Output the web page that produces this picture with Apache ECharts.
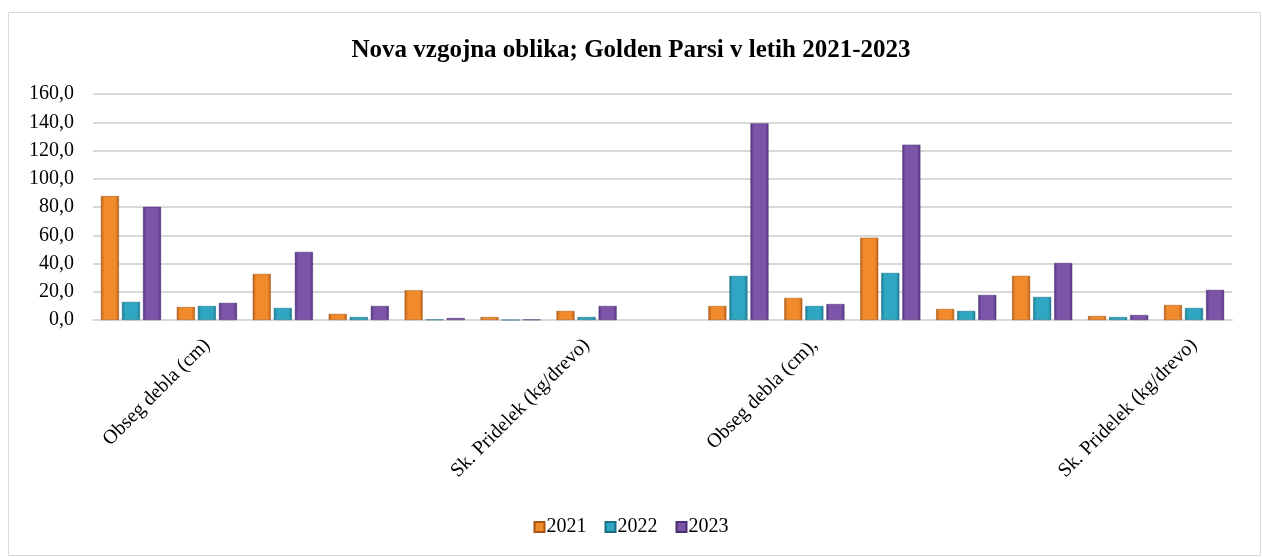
<!DOCTYPE html>
<html>
<head>
<meta charset="utf-8">
<script src="https://cdn.jsdelivr.net/npm/echarts@6/dist/echarts.min.js"></script>
<style>
html,body{margin:0;padding:0;background:#fff;}
#c{width:1262px;height:557px;}
</style>
</head>
<body>
<div id="c"></div>
<script>
var categories = ["", "Obseg debla (cm)", "", "", "", "", "Sk. Pridelek (kg/drevo)", "", "", "Obseg debla (cm),", "", "", "", "", "Sk. Pridelek (kg/drevo)"];
var seriesNames = ["2021", "2022", "2023"];
var values2021 = [87.7, 9.2, 32.6, 4.3, 21.0, 2.1, 6.4, null, 9.9, 15.6, 58.2, 7.8, 31.2, 2.8, 10.6];
var values2022 = [12.8, 9.9, 8.5, 2.1, 0.3, 0, 2.1, null, 31.2, 9.9, 33.3, 6.4, 16.3, 2.1, 8.5];
var values2023 = [80.1, 12.1, 48.2, 9.9, 1.4, 0.3, 9.9, null, 139.2, 11.3, 124.1, 17.7, 40.4, 3.5, 21.3];
var yTicks = {min: 0, max: 160, interval: 20};

function grad(edge, mid) {
  return new echarts.graphic.LinearGradient(0, 0, 1, 0, [
    {offset: 0, color: edge},
    {offset: 0.18, color: mid},
    {offset: 0.82, color: mid},
    {offset: 1, color: edge}
  ]);
}
var styles = [
  {edge: '#B55E18', mid: '#F08A2A', border: '#A85414'},
  {edge: '#1C7A90', mid: '#2FA6C2', border: '#186E83'},
  {edge: '#523380', mid: '#7C55A8', border: '#4A2F72'}
];
var allValues = [values2021, values2022, values2023];

var chart = echarts.init(document.getElementById('c'));
var font = '"Liberation Serif", "Times New Roman", serif';
chart.setOption({
  animation: false,
  backgroundColor: '#fff',
  textStyle: {fontFamily: font},
  graphic: [{
    type: 'rect',
    shape: {x: 8.5, y: 12.5, width: 1252, height: 543},
    style: {fill: 'none', stroke: '#d9d9d9', lineWidth: 1},
    silent: true
  }],
  title: {
    text: 'Nova vzgojna oblika; Golden Parsi v letih 2021-2023',
    left: 'center',
    top: 33,
    textStyle: {fontFamily: font, fontSize: 25, fontWeight: 'bold', color: '#000'}
  },
  legend: {
    data: seriesNames,
    bottom: 15,
    left: 'center',
    itemWidth: 10,
    itemHeight: 10,
    itemGap: 18,
    icon: 'rect',
    textStyle: {fontFamily: font, fontSize: 20, color: '#000', padding: [0, 0, 0, -3]}
  },
  grid: {left: 93, right: 30, top: 94, bottom: 237, containLabel: false},
  xAxis: {
    type: 'category',
    data: categories,
    axisLine: {show: true, lineStyle: {color: '#d9d9d9', width: 2}},
    axisTick: {show: false},
    axisLabel: {
      interval: 0,
      rotate: 45,
      margin: 22,
      fontFamily: font,
      fontSize: 20,
      color: '#000'
    }
  },
  yAxis: {
    type: 'value',
    min: yTicks.min,
    max: yTicks.max,
    interval: yTicks.interval,
    axisLine: {show: false},
    axisTick: {show: false},
    splitLine: {lineStyle: {color: '#d9d9d9', width: 2}},
    axisLabel: {
      margin: 19,
      fontFamily: font,
      fontSize: 20,
      color: '#000',
      formatter: function (v) { return v.toFixed(1).replace('.', ','); }
    }
  },
  series: seriesNames.map(function (name, i) {
    return {
      name: name,
      type: 'bar',
      data: allValues[i],
      barWidth: 18,
      barGap: '17%',
      itemStyle: {
        color: grad(styles[i].edge, styles[i].mid),
        borderColor: styles[i].border,
        borderWidth: 0.5
      }
    };
  }),
  color: ['#E8821E', '#2BA3C0', '#7B52A6']
});
</script>
</body>
</html>
